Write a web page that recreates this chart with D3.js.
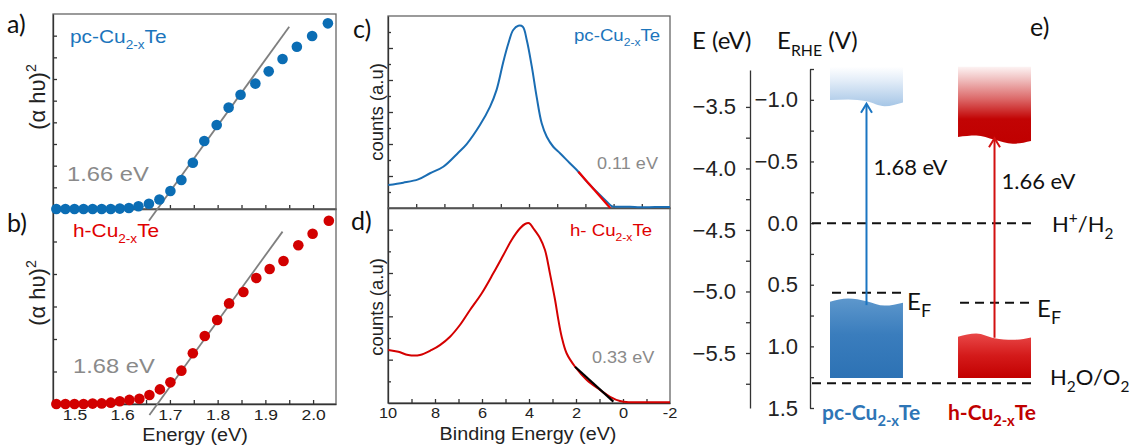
<!DOCTYPE html>
<html lang="en">
<head>
<meta charset="UTF-8">
<title>Cu2-xTe optical gap, XPS valence band and band alignment</title>
<style>
    body { margin: 0; background: #fff; }
    svg text { font-family: Arial, "Liberation Sans", sans-serif; }
    svg text.cal { font-family: Lato, "Open Sans", sans-serif; }
    .frame { fill: none; stroke: #666; stroke-width: 1.3px; }
    .ax path, .ax line { stroke: #333; stroke-width: 1.3px; }
    .ax text { fill: #222; }
</style>
</head>
<body>
<div id="chart"></div>
<script src="https://d3js.org/d3.v7.min.js"></script>
<script>
// ---- a) / b) Tauc plots ----
const pcEnergy = [1.462, 1.481, 1.500, 1.519, 1.538, 1.557, 1.576, 1.595, 1.614, 1.634, 1.656, 1.678, 1.701,
                  1.724, 1.748, 1.772, 1.798, 1.823, 1.848, 1.879, 1.907, 1.936, 1.966, 1.998, 2.031];
const pcTauc   = [0, 0, 0, 0, 0, 0, 0, 0.2, 0.5, 1.4, 2.7, 4.9, 9.2,
                  14.9, 23.7, 34.9, 43.1, 52.0, 58.6, 64.3, 70.6, 76.9, 83.2, 88.7, 95.2];
const hEnergy  = [1.462, 1.481, 1.500, 1.519, 1.538, 1.557, 1.576, 1.595, 1.615, 1.636, 1.657, 1.679, 1.701,
                  1.724, 1.748, 1.773, 1.799, 1.824, 1.854, 1.881, 1.909, 1.938, 1.969, 1.999, 2.033];
const hTauc    = [0, 0, 0, 0, 0.2, 0.3, 0.7, 1.4, 2.1, 2.7, 4.6, 7.5, 11.1,
                  17.1, 26.0, 34.9, 43.1, 51.6, 57.4, 64.6, 69.2, 73.3, 81.4, 87.3, 94.0];
const pcFitE = [1.656, 1.950], pcFitY = [-6.0, 93.5];
const hFitE  = [1.657, 1.936], hFitY  = [-5.6, 88.4];
const taucTicks = [1.5, 1.6, 1.7, 1.8, 1.9, 2.0];

// ---- c) / d) XPS valence band ----
const pcBE = [9.99, 9.46, 8.93, 8.51, 8.04, 7.51, 7.21, 6.74, 6.38, 6.15, 5.91, 5.73, 5.56, 5.38, 5.22, 5.08, 4.90,
              4.73, 4.55, 4.37, 4.14, 3.90, 3.55, 3.25, 2.95, 2.60, 2.24, 2.07, 1.77, 1.42, 1.06, 0.53, 0.0];
const pcCounts = [12.0, 13.2, 14.9, 18.1, 21.5, 28.8, 33.3, 43.2, 52.8, 61.5, 76.2, 85.8, 92.7, 94.9, 94.4, 87.5, 73.6,
                  58.0, 44.1, 37.1, 31.9, 28.5, 23.3, 18.9, 13.7, 8.5, 3.3, 1.0, 0.7, 0.7, 0.4, 0.5, 0.5];
const hBE = [9.99, 9.56, 9.14, 8.64, 8.14, 7.79, 7.36, 6.94, 6.51, 6.01, 5.52, 5.09, 4.74, 4.38, 4.17, 3.99,
             3.82, 3.53, 3.32, 3.11, 2.89, 2.75, 2.61, 2.40, 2.04, 1.54, 0.98, 0.55, 0.13, -0.30, -1.15, -2.0];
const hCounts = [27.2, 26.3, 24.6, 24.6, 27.2, 29.7, 34.0, 40.0, 47.7, 56.3, 66.5, 75.9, 83.6, 89.6, 91.8, 92.2,
                 89.6, 84.5, 78.5, 66.5, 52.8, 42.6, 34.0, 25.5, 18.6, 11.8, 6.7, 3.2, 1.0, 0.4, 0.4, 0.4];
const pcEdgeBE = [3.25, 2.12], pcEdgeY = [18.9, 0];
const hEdgeBE  = [2.04, 0.41], hEdgeY  = [18.6, 0.7];
const beTicks = [10, 8, 6, 4, 2, 0, -2];

// ---- e) band alignment ----
const materials = ["pc", "h"];
const eTicks = [-3.5, -4.0, -4.5, -5.0, -5.5];
const rheTicks = [-1.0, -0.5, 0.0, 0.5, 1.0, 1.5];
const bandTop = -1.27, bandBottom = 1.257;       // E_RHE (V)
const pcCBEdge = [-1.0, -1.005, -0.99, -0.95, -0.98];
const pcVBEdge = [0.638, 0.612, 0.633, 0.669, 0.645];
const hCBEdge  = [-0.70, -0.711, -0.677, -0.645, -0.668];
const hVBEdge  = [0.922, 0.895, 0.933, 0.947, 0.927];
const pcGap = [0.665, -0.97], hGap = [0.93, -0.69];
const fermiLevels = [0.565, 0.646];
const gapLabels = ["1.68 eV", "1.66 eV"];
const redox = [0.0, 1.30];

const BLUE = "#0b6db4", RED = "#d20000", GRAY = "#8a8a8a";
const SX = 1.13;

const svg = d3.select("#chart").append("svg").attr("width", 1137).attr("height", 445);

function rich(g, x, y, parts, size, color, o = {}) {
    let tr = `translate(${x},${y})`;
    if (o.sx) tr += ` scale(${o.sx},1)`;
    if (o.rot) tr += ` rotate(${o.rot})`;
    const t = g.append("text").attr("transform", tr).attr("font-size", size).attr("fill", color);
    if (o.anchor) t.attr("text-anchor", o.anchor);
    if (o.cls) t.attr("class", o.cls);
    if (o.weight) t.attr("font-weight", o.weight);
    let shift = 0;
    parts.forEach(([s, k]) => {
        const target = k === "s" ? size * 0.3 : k === "p" ? -size * 0.42 : 0;
        t.append("tspan").attr("dy", target - shift)
            .attr("font-size", k === "n" ? size : size * (o.sub || 0.65)).text(s);
        shift = target;
    });
    return t;
}
const cuTe = (p) => [[p + "Cu", "n"], ["2-x", "s"], ["Te", "n"]];

// ================= a) and b) =================
const xT = d3.scaleLinear().domain([1.455, 2.048]).range([53, 336]);
const yA = d3.scaleLinear().domain([0, 100]).range([209, 14]);
const yB = d3.scaleLinear().domain([0, 100]).range([404, 209]);
const tauc05 = d3.range(1.5, 2.04, 0.05);

[[yA, 14, 209, 9], [yB, 209, 404, 6]].forEach(([ys, top, bot, n], i) => {
    svg.append("rect").attr("class", "frame").attr("x", 53).attr("y", top).attr("width", 283).attr("height", bot - top);
    const gx = svg.append("g").attr("class", "ax").attr("transform", `translate(0,${bot})`)
        .call(d3.axisBottom(xT).tickValues(tauc05).tickSize(-4).tickSizeOuter(0).tickPadding(5)
            .tickFormat(d => i === 1 && taucTicks.some(t => Math.abs(t - d) < 1e-6) ? d3.format(".1f")(d) : ""));
    gx.selectAll("text").attr("font-size", 15.5).attr("transform", `scale(${SX},1)`);
    svg.append("g").attr("class", "ax").attr("transform", "translate(53,0)")
        .call(d3.axisLeft(ys).tickValues(d3.range(1, n).map(k => k * 100 / n)).tickSize(-4).tickSizeOuter(0).tickFormat(""));
});

const lineT = (ys) => d3.line().x(d => xT(d[0])).y(d => ys(d[1]));
svg.append("path").attr("d", lineT(yA)(d3.zip(pcFitE, pcFitY)))
    .attr("stroke", "#7f7f7f").attr("stroke-width", 1.8).attr("fill", "none");
svg.append("path").attr("d", lineT(yB)(d3.zip(hFitE, hFitY)))
    .attr("stroke", "#7f7f7f").attr("stroke-width", 1.8).attr("fill", "none");

svg.append("g").selectAll("circle").data(d3.zip(pcEnergy, pcTauc)).join("circle")
    .attr("cx", d => xT(d[0])).attr("cy", d => yA(d[1])).attr("r", 5.3).attr("fill", BLUE);
svg.append("g").selectAll("circle").data(d3.zip(hEnergy, hTauc)).join("circle")
    .attr("cx", d => xT(d[0])).attr("cy", d => yB(d[1])).attr("r", 5.3).attr("fill", RED);

rich(svg, 7, 33, [["a)", "n"]], 25, "#111", { cls: "cal" });
rich(svg, 7, 232, [["b)", "n"]], 25, "#111", { cls: "cal" });
rich(svg, 70, 43, cuTe("pc-"), 18.5, "#1c75bc", { sx: SX });
rich(svg, 73, 237, cuTe("h-"), 18.5, "#e00000", { sx: SX });
rich(svg, 67, 181, [["1.66 eV", "n"]], 21, GRAY, { sx: SX });
rich(svg, 73, 373, [["1.68 eV", "n"]], 21, GRAY, { sx: SX });
rich(svg, 45, 97, [["(α hυ)", "n"], ["2", "p"]], 22, "#222", { rot: -90, anchor: "middle" });
rich(svg, 45, 293, [["(α hυ)", "n"], ["2", "p"]], 22, "#222", { rot: -90, anchor: "middle" });
rich(svg, 195, 441, [["Energy (eV)", "n"]], 17.5, "#222", { sx: SX, anchor: "middle" });

// ================= c) and d) =================
const xC = d3.scaleLinear().domain([10, 0]).range([388, 670]);
const xD = d3.scaleLinear().domain([10, -2]).range([388, 670]);
const yC = d3.scaleLinear().domain([0, 100]).range([208, 16]);
const yD = d3.scaleLinear().domain([0, 100]).range([403, 208]);

[[xC, yC, 16, 208, 12, d3.range(9, 0, -1)], [xD, yD, 208, 403, 9, d3.range(9, -2, -1)]].forEach(([xs, ys, top, bot, n, tv], i) => {
    svg.append("rect").attr("class", "frame").attr("x", 388).attr("y", top).attr("width", 282).attr("height", bot - top);
    const gx = svg.append("g").attr("class", "ax").attr("transform", `translate(0,${bot})`)
        .call(d3.axisBottom(xs).tickValues(tv).tickSize(-4).tickSizeOuter(0).tickPadding(5)
            .tickFormat(d => i === 1 && beTicks.includes(d) ? d : ""));
    if (i === 1) {
        [10, -2].forEach(v => gx.append("g").attr("transform", `translate(${xs(v)},0)`).append("text")
            .attr("y", 5).attr("dy", "0.71em").attr("text-anchor", "middle").text(v));
    }
    gx.selectAll("text").attr("font-size", 14.5).attr("fill", "#222").attr("transform", `scale(${SX},1)`);
    const gy = svg.append("g").attr("class", "ax").attr("transform", "translate(388,0)")
        .call(d3.axisLeft(ys).tickValues(d3.range(1, n).map(k => k * 100 / n)).tickSize(-3).tickSizeOuter(0).tickFormat(""));
    gy.selectAll(".tick line").attr("x2", d => Math.round(d * n / 100) % 2 === 0 ? 5 : 3);
});

const lineC = d3.line().x(d => xC(d[0])).y(d => yC(d[1])).curve(d3.curveCatmullRom);
const lineD = d3.line().x(d => xD(d[0])).y(d => yD(d[1])).curve(d3.curveCatmullRom);
svg.append("path").attr("d", lineC(d3.zip(pcBE, pcCounts))).attr("fill", "none").attr("stroke", "#1a6db3").attr("stroke-width", 2);
svg.append("path").attr("d", lineC(d3.zip(pcEdgeBE, pcEdgeY))).attr("fill", "none").attr("stroke", "#ee0000").attr("stroke-width", 2.2);
svg.append("path").attr("d", lineD(d3.zip(hBE, hCounts))).attr("fill", "none").attr("stroke", "#d40000").attr("stroke-width", 2);
svg.append("path").attr("d", lineD(d3.zip(hEdgeBE, hEdgeY))).attr("fill", "none").attr("stroke", "#000").attr("stroke-width", 2.2);

rich(svg, 353, 38, [["c)", "n"]], 25, "#111", { cls: "cal" });
rich(svg, 351, 230, [["d)", "n"]], 25, "#111", { cls: "cal" });
rich(svg, 574, 41, cuTe("pc-"), 16.5, "#1c75bc", { sx: SX });
rich(svg, 570, 236, cuTe("h- "), 16.5, "#e00000", { sx: SX });
rich(svg, 597, 169, [["0.11 eV", "n"]], 16, GRAY, { sx: SX });
rich(svg, 592, 363, [["0.33 eV", "n"]], 16, GRAY, { sx: SX });
rich(svg, 383, 112, [["counts (a.u)", "n"]], 18.5, "#222", { rot: -90, anchor: "middle" });
rich(svg, 383, 307, [["counts (a.u)", "n"]], 18.5, "#222", { rot: -90, anchor: "middle" });
rich(svg, 528, 440, [["Binding Energy (eV)", "n"]], 17.5, "#222", { sx: SX, anchor: "middle" });

// ================= e) =================
const rS = d3.scaleLinear().domain([-1.0, 1.5]).range([100, 408]);
const xM = d3.scaleBand().domain(materials).range([830, 1031]).paddingInner(0.43);

const gE = svg.append("g").attr("class", "ax").attr("transform", "translate(750,0)")
    .call(d3.axisLeft(d3.scaleLinear().domain([-3.2, -5.947]).range([70, 408]))
        .tickValues(d3.range(-3.5, -5.9, -0.25)).tickSize(4).tickSizeOuter(0).tickPadding(10)
        .tickFormat(d => eTicks.some(t => Math.abs(t - d) < 1e-6) ? d3.format(".1f")(d) : ""));
const gR = svg.append("g").attr("class", "ax").attr("transform", "translate(810,0)")
    .call(d3.axisLeft(d3.scaleLinear().domain([-1.25, 1.5]).range([69, 408]))
        .tickValues(d3.range(-1.25, 1.51, 0.25)).tickSize(-4).tickSizeOuter(0).tickPadding(11)
        .tickFormat(d => rheTicks.some(t => Math.abs(t - d) < 1e-6) ? d3.format(".1f")(d) : ""));
[gE, gR].forEach(g => g.selectAll("text").attr("font-size", 22).attr("fill", "#222"));
gR.selectAll(".tick text").attr("x", -12);

const defs = svg.append("defs");
function grad(id, stops) {
    const g = defs.append("linearGradient").attr("id", id).attr("x1", 0).attr("y1", 0).attr("x2", 0).attr("y2", 1);
    stops.forEach(([o, c]) => g.append("stop").attr("offset", o).attr("stop-color", c));
}
grad("pcCB", [[0, "#ffffff"], [0.35, "#e3edf8"], [1, "#a6c6e6"]]);
grad("hCB", [[0, "#fdf3f3"], [0.15, "#f1c4c4"], [0.42, "#dc6868"], [0.68, "#c20404"], [1, "#c00000"]]);
grad("pcVB", [[0, "#5d97cc"], [0.45, "#3a7dbd"], [1, "#2d72b4"]]);
grad("hVB", [[0, "#e94848"], [0.5, "#d41a1a"], [1, "#c20000"]]);

const wave = d3.line().curve(d3.curveMonotoneX);
function band(m, edge, isCB, fill) {
    const x0 = xM(m), x1 = x0 + xM.bandwidth();
    const xi = d3.scaleLinear().domain([0, edge.length - 1]).range([x0, x1]);
    const pts = edge.map((v, k) => [xi(k), rS(v)]);
    const yEnd = rS(isCB ? bandTop : bandBottom);
    svg.append("path").attr("fill", `url(#${fill})`)
        .attr("d", wave(pts) + `L${x1},${yEnd}L${x0},${yEnd}Z`);
}
band("pc", pcCBEdge, true, "pcCB");
band("pc", pcVBEdge, false, "pcVB");
band("h", hCBEdge, true, "hCB");
band("h", hVBEdge, false, "hVB");

// redox and Fermi levels
redox.forEach(v => svg.append("line").attr("x1", 812).attr("x2", 1032).attr("y1", rS(v)).attr("y2", rS(v))
    .attr("stroke", "#111").attr("stroke-width", 2).attr("stroke-dasharray", "9,6"));
materials.forEach((m, k) => svg.append("line")
    .attr("x1", xM(m) + 2).attr("x2", xM(m) + xM.bandwidth() + 2)
    .attr("y1", rS(fermiLevels[k])).attr("y2", rS(fermiLevels[k]))
    .attr("stroke", "#111").attr("stroke-width", 2).attr("stroke-dasharray", "9,6"));

// gap arrows
[[pcGap, "#1a75c2"], [hGap, "#d21010"]].forEach(([gap, c], k) => {
    const x = xM(materials[k]) + xM.bandwidth() / 2;
    const y0 = rS(gap[0]), y1 = rS(gap[1]);
    svg.append("line").attr("x1", x).attr("x2", x).attr("y1", y0).attr("y2", y1 + 1)
        .attr("stroke", c).attr("stroke-width", 2);
    svg.append("path").attr("d", `M${x - 5.5},${y1 + 9}L${x},${y1}L${x + 5.5},${y1 + 9}`)
        .attr("fill", "none").attr("stroke", c).attr("stroke-width", 2);
    rich(svg, x + 7, k === 0 ? 175 : 189, [[gapLabels[k], "n"]], 22, "#111", { cls: "cal" });
});

rich(svg, 692, 49, [["E (eV)", "n"]], 24, "#111", { cls: "cal" });
rich(svg, 777, 49, [["E", "n"], ["RHE", "s"], [" (V)", "n"]], 24, "#111", { cls: "cal", sub: 0.66 });
rich(svg, 1030, 36, [["e)", "n"]], 25, "#111", { cls: "cal" });
rich(svg, 1052, 232, [["H", "n"], ["+", "p"], ["/H", "n"], ["2", "s"]], 22, "#111", { cls: "cal", sub: 0.7 });
rich(svg, 1050, 385, [["H", "n"], ["2", "s"], ["O/O", "n"], ["2", "s"]], 22, "#111", { cls: "cal", sub: 0.7 });
rich(svg, 907, 310, [["E", "n"], ["F", "s"]], 24, "#111", { cls: "cal", sub: 0.75 });
rich(svg, 1037, 317, [["E", "n"], ["F", "s"]], 24, "#111", { cls: "cal", sub: 0.75 });
rich(svg, 822, 420, cuTe("pc-"), 21, "#2e75b6", { cls: "cal", weight: "bold", sub: 0.7 });
rich(svg, 948, 420, cuTe("h-"), 21, "#c00000", { cls: "cal", weight: "bold", sub: 0.7 });
</script>
</body>
</html>
